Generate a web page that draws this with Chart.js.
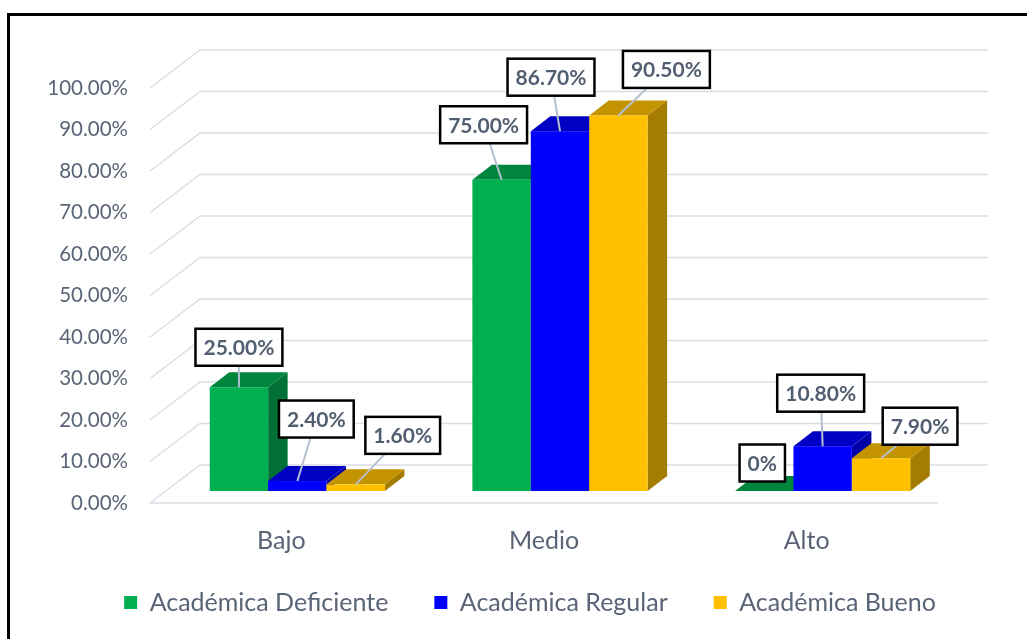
<!DOCTYPE html>
<html>
<head>
<meta charset="utf-8">
<script src="https://cdn.jsdelivr.net/npm/chart.js@4.4.0/dist/chart.umd.min.js"></script>
<style>
  html, body { margin: 0; padding: 0; background: #fff; }
  #grafica { display: block; }
</style>
</head>
<body>
<canvas id="grafica" width="1027" height="639"></canvas>
<script>
const categorias = ['Bajo', 'Medio', 'Alto'];
const nombresSeries = ['Académica Deficiente', 'Académica Regular', 'Académica Bueno'];
const deficiente = [25.00, 75.00, 0];
const regular = [2.40, 86.70, 10.80];
const bueno = [1.60, 90.50, 7.90];
const ticksY = [0, 10, 20, 30, 40, 50, 60, 70, 80, 90, 100];

const coloresFrente = ['#00B050', '#0000FF', '#FFC000'];
const coloresArriba = ['#00853D', '#0000C4', '#C49400'];
const coloresLado = ['#007036', '#0000A6', '#A47C00'];
const colorTexto = '#5A6477';

// donde quedo cada etiqueta respecto a la punta de su barra (movidas a mano en Excel)
const desplazEtiquetas = [
    [[0, -40], [-18, -55], [-2, -28]],
    [[19, -62], [-9, -54], [-2, -53]],
    [[47, -49], [48, -46], [39, -32]]
];

// perspectiva falsa: fondo, plano de las barras y profundidad de la barra
const FONDO = { dx: 50, dy: 38 };
const PLANO = { dx: 16, dy: 12 };
const PROF = { dx: 19.5, dy: 15 };

const formato = v => v === 0 ? '0%' : v.toFixed(2) + '%';

const poligono = (ctx, pts, color) => {
    ctx.beginPath();
    ctx.moveTo(pts[0][0], pts[0][1]);
    pts.slice(1).forEach(p => ctx.lineTo(p[0], p[1]));
    ctx.closePath();
    ctx.fillStyle = color;
    ctx.fill();
}

const efecto3D = {
    id: 'efecto3D',
    beforeDraw(chart) {
        const ctx = chart.ctx;
        ctx.save();
        ctx.fillStyle = '#000';
        ctx.fillRect(7, 13, chart.width - 7, 3);
        ctx.fillRect(7, 13, 3, chart.height - 13);
        ctx.restore();
    },
    afterLayout(chart) {
        const lg = chart.legend;
        if (!lg) return;
        lg.left = 530 - lg.width / 2;
        lg.right = lg.left + lg.width;
        lg.top = 544;
        lg.bottom = lg.top + lg.height;
    },
    beforeDatasetsDraw(chart) {
        const { ctx, chartArea, scales: { y } } = chart;
        ctx.save();

        // rejilla con la pared del fondo
        ctx.strokeStyle = '#D9DEE6';
        ctx.lineWidth = 1.5;
        y.ticks.forEach(t => {
            const py = y.getPixelForValue(t.value);
            ctx.beginPath();
            ctx.moveTo(chartArea.left, py);
            ctx.lineTo(chartArea.left + FONDO.dx, py - FONDO.dy);
            ctx.lineTo(chartArea.right + FONDO.dx, py - FONDO.dy);
            ctx.stroke();
        });
        const y0 = y.getPixelForValue(0);
        ctx.beginPath();
        ctx.moveTo(chartArea.left, y0);
        ctx.lineTo(chartArea.right, y0);
        ctx.stroke();

        // barras 3D
        const metas = chart.data.datasets.map((d, i) => chart.getDatasetMeta(i));
        categorias.forEach((c, j) => {
            metas.forEach((m, i) => {
                const el = m.data[j];
                const x0 = el.x - el.width / 2 + PLANO.dx;
                const x1 = el.x + el.width / 2 + PLANO.dx;
                const yt = el.y - PLANO.dy;
                const yb = el.base - PLANO.dy;
                poligono(ctx, [[x1, yb], [x1, yt], [x1 + PROF.dx, yt - PROF.dy], [x1 + PROF.dx, yb - PROF.dy]], coloresLado[i]);
                poligono(ctx, [[x0, yt], [x1, yt], [x1 + PROF.dx, yt - PROF.dy], [x0 + PROF.dx, yt - PROF.dy]], coloresArriba[i]);
                if (yb - yt > 0.5) {
                    ctx.fillStyle = coloresFrente[i];
                    ctx.fillRect(x0, yt, x1 - x0, yb - yt);
                }
            });
        });

        // etiquetas con linea guia
        ctx.font = 'bold 21px Lato';
        ctx.textAlign = 'center';
        ctx.textBaseline = 'middle';
        metas.forEach((m, i) => {
            m.data.forEach((el, j) => {
                const valor = chart.data.datasets[i].data[j];
                const texto = formato(valor);
                const ex = el.x + PLANO.dx;
                const ey = el.y - PLANO.dy;
                const cx = ex + desplazEtiquetas[i][j][0];
                const cy = ey + desplazEtiquetas[i][j][1];
                const w = ctx.measureText(texto).width + 16;
                const h = 37;
                if (ey - (cy + h / 2) > 12 || Math.abs(ex - cx) > w / 2) {
                    ctx.strokeStyle = '#B4C0CF';
                    ctx.lineWidth = 2;
                    ctx.beginPath();
                    ctx.moveTo(cx, cy);
                    ctx.lineTo(ex, ey);
                    ctx.stroke();
                }
                ctx.fillStyle = '#fff';
                ctx.fillRect(cx - w / 2, cy - h / 2, w, h);
                ctx.strokeStyle = '#000';
                ctx.lineWidth = 2.5;
                ctx.strokeRect(cx - w / 2, cy - h / 2, w, h);
                ctx.fillStyle = '#525E71';
                ctx.fillText(texto, cx, cy + 1);
            });
        });

        ctx.restore();
        return false;
    }
};

const grafica = new Chart(document.getElementById('grafica').getContext('2d'), {
    type: 'bar',
    data: {
        labels: categorias,
        datasets: [
            { label: nombresSeries[0], data: deficiente, backgroundColor: coloresFrente[0], borderWidth: 0 },
            { label: nombresSeries[1], data: regular, backgroundColor: coloresFrente[1], borderWidth: 0 },
            { label: nombresSeries[2], data: bueno, backgroundColor: coloresFrente[2], borderWidth: 0 }
        ]
    },
    options: {
        responsive: false,
        animation: false,
        layout: { padding: { left: 0, right: 89, top: 88, bottom: 0 } },
        datasets: { bar: { categoryPercentage: 0.667, barPercentage: 1 } },
        scales: {
            x: {
                grid: { display: false, drawTicks: false },
                border: { display: false },
                ticks: { color: colorTexto, font: { family: 'Lato', size: 25 }, padding: 23 },
                afterFit: s => { s.height = 136 - s.chart.legend.height; }
            },
            y: {
                min: 0,
                max: 100,
                grid: { display: false, drawTicks: false },
                border: { display: false },
                ticks: {
                    color: colorTexto,
                    font: { family: 'Lato', size: 20.5 },
                    padding: 22,
                    callback: v => v.toFixed(2) + '%'
                },
                afterBuildTicks: s => { s.ticks = ticksY.map(v => ({ value: v })); },
                afterFit: s => { s.width = 150; }
            }
        },
        plugins: {
            legend: {
                position: 'bottom',
                labels: {
                    boxWidth: 13,
                    boxHeight: 13,
                    padding: 46,
                    color: colorTexto,
                    font: { family: 'Lato', size: 25 }
                }
            },
            tooltip: { enabled: false }
        }
    },
    plugins: [efecto3D]
});
</script>
</body>
</html>
